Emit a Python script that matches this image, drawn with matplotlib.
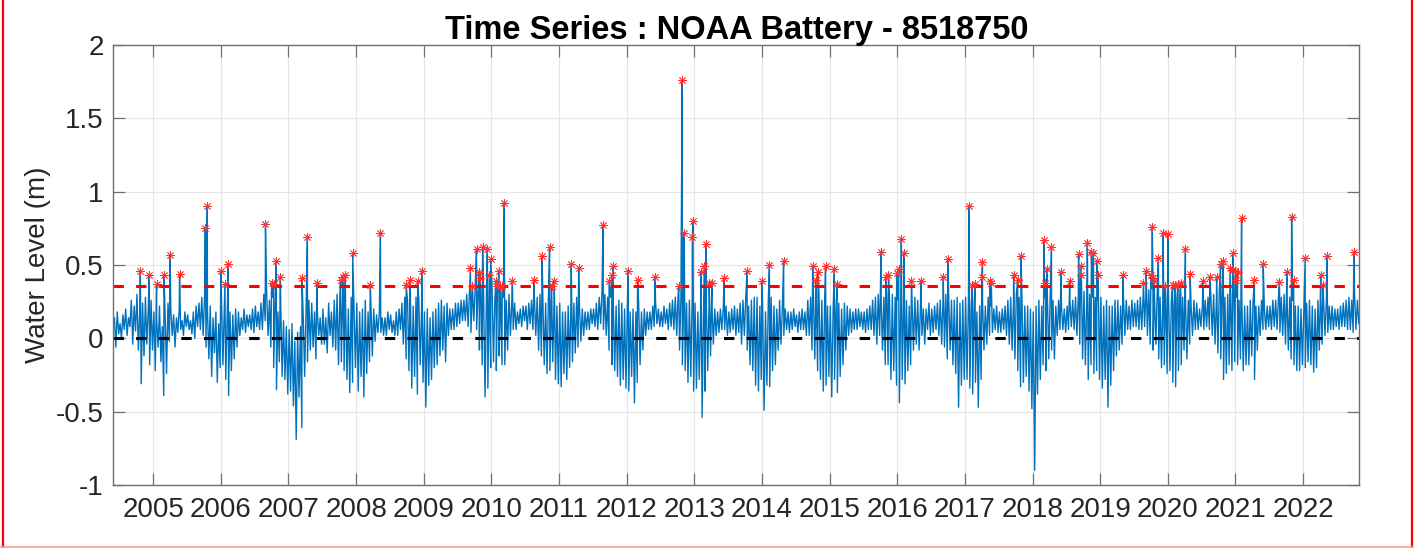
"""plot.py - water level time series with storm peaks (NOAA Battery)"""

import matplotlib
matplotlib.use("Agg")
import matplotlib.pyplot as plt
from matplotlib.lines import Line2D
import numpy as np

plt.rcParams['font.family'] = ['Liberation Sans', 'DejaVu Sans']

# water level, cm, four samples per month (about weekly)
# 2004 starts in June, 2022 stops in October
wl_2004 = [14, -6, 18, 3, 10, 0, 16, 6, 20, 2, 14, 8, 26, -4, 22, 5,
           30, -8, 18, -31, 24, -12, 28, -4, 20, -18, 26, -8]
wl_2005 = [18, -22, 12, -6, 22, -16, 8, -39, 16, -24, 24, -2, 20, 2, 16, -6,
           14, 4, 20, 6, 12, 2, 18, 8, 16, 6, 12, 3, 18, 0, 22, 8,
           24, 6, 28, 2, 30, -6, 20, -14, 22, -26, 14, -10, 18, -30, 10, -20]
wl_2006 = [26, -18, 20, -28, 14, -39, 18, -22, 16, -14, 20, -6, 18, 2, 14, 6,
           20, 4, 16, 8, 16, 6, 20, 4, 22, 8, 18, 6, 24, 6, 30, 12,
           32, 2, 26, -6, 28, -20, 22, -35, 18, -16, 24, -26, 12, -28, 8, -38]
wl_2007 = [6, -36, 10, -46, -2, -69, 4, -40, 8, -61, 14, -26, 20, -16, 26, -8,
           24, -6, 18, -14, 18, 2, 14, -4, 20, -4, 14, -10, 24, 2, 18, -6,
           26, -8, 30, -18, 30, -16, 32, -22, 26, -28, 20, -37, 28, -30, 22, -20]
wl_2008 = [24, -36, 18, -26, 20, -40, 26, -24, 18, -16, 24, -12, 20, -2, 16, 4,
           18, 4, 14, 2, 14, 2, 18, 6, 16, 4, 12, 2, 18, 2, 20, 6,
           24, -4, 28, -14, 26, -22, 30, -34, 22, -26, 28, -38, 26, -18, 22, -30]
wl_2009 = [18, -47, 20, -32, 14, -28, 18, -20, 20, -18, 24, -12, 26, -8, 22, -16,
           24, 2, 20, 6, 20, 6, 24, 8, 24, 10, 26, 12, 26, 12, 30, 8,
           32, 4, 34, 12, 34, 6, 30, -8, 33, -18, 28, -40, 30, -34, 34, -20]
wl_2010 = [34, -16, 28, -22, 32, -12, 30, -18, 28, -18, 26, -8, 30, 2, 26, 6,
           24, 6, 18, 10, 20, 8, 22, 12, 22, 6, 24, 10, 26, 6, 28, 2,
           28, -8, 30, -12, 28, -18, 24, -24, 30, -22, 26, -16, 26, -28, 22, -31]
wl_2011 = [24, -33, 18, -24, 18, -28, 22, -20, 28, -16, 24, -10, 28, -6, 22, -2,
           20, 2, 18, 6, 18, 6, 20, 10, 20, 8, 24, 6, 28, 10, 32, 6,
           30, 2, 28, -8, 28, -18, 24, -22, 22, -26, 26, -32, 24, -28, 20, -34]
wl_2012 = [24, -36, 18, -26, 20, -44, 18, -30, 24, -18, 18, -8, 20, 2, 18, 6,
           18, 6, 22, 8, 24, 10, 20, 8, 18, 8, 22, 10, 20, 6, 24, 8,
           26, 6, 28, 2, 30, -8, 28, -18, 28, -22, 24, -30, 26, -26, 28, -36]
wl_2013 = [24, -34, 18, -28, 20, -54, 16, -36, 24, -22, 26, -12, 22, -4, 20, 2,
           18, 4, 20, 6, 20, 6, 22, 2, 18, 4, 20, 6, 22, 2, 20, 4,
           24, -4, 26, 2, 28, -8, 22, -18, 26, -22, 28, -32, 28, -36, 22, -28]
wl_2014 = [20, -49, 18, -32, 26, -33, 28, -22, 22, -18, 20, -8, 26, -4, 22, 2,
           20, 6, 18, 4, 18, 6, 20, 8, 16, 4, 18, 6, 20, 6, 18, 2,
           26, 2, 28, -8, 30, -14, 28, -22, 28, -28, 26, -36, 28, -32, 22, -26]
wl_2015 = [22, -40, 20, -28, 18, -37, 24, -26, 20, -18, 24, -8, 22, 2, 20, 4,
           18, 6, 20, 6, 20, 8, 18, 6, 18, 4, 20, 6, 22, 6, 26, 2,
           28, -4, 30, 2, 30, -8, 28, -18, 28, -18, 26, -28, 30, -22, 28, -32]
wl_2016 = [26, -44, 28, -28, 22, -31, 26, -22, 22, -18, 26, -8, 28, -4, 26, -8,
           24, 2, 20, -4, 20, 6, 24, 2, 20, 4, 22, 6, 24, 2, 26, -4,
           28, -6, 30, -14, 28, -8, 26, -18, 26, -24, 28, -47, 24, -32, 26, -28]
wl_2017 = [28, -28, 26, -34, 22, -38, 20, -30, 18, -47, 22, -28, 26, -8, 22, -4,
           28, 2, 22, 4, 20, 6, 22, 4, 18, 4, 20, 6, 22, 2, 26, -4,
           28, -8, 26, -14, 30, -22, 28, -33, 26, -30, 22, -26, 22, -36, 20, -48]
wl_2018 = [18, -90, 22, -38, 26, -28, 22, -18, 28, -22, 30, -14, 28, -8, 26, -14,
           22, 2, 26, 6, 22, 6, 20, 4, 22, 6, 26, 8, 26, 6, 28, 2,
           30, -4, 28, -14, 32, -18, 28, -28, 30, -18, 28, -24, 28, -22, 26, -28]
wl_2019 = [28, -34, 22, -28, 26, -47, 22, -32, 22, -22, 26, -12, 26, -8, 22, -4,
           28, 2, 26, 6, 22, 6, 26, 8, 24, 8, 26, 6, 28, 6, 30, 8,
           32, 2, 33, -4, 34, -8, 30, -4, 32, -14, 28, -20, 30, -18, 28, -24]
wl_2020 = [28, -22, 26, -30, 22, -33, 28, -22, 30, -18, 28, -8, 28, -14, 26, -4,
           22, 2, 26, 6, 24, 6, 20, 8, 22, 6, 26, 8, 28, 6, 30, 2,
           30, -4, 28, -10, 32, -14, 28, -28, 28, -24, 30, -18, 30, -22, 28, -16]
wl_2021 = [28, -18, 26, -14, 26, -22, 22, -18, 22, -18, 26, -12, 26, -28, 22, -8,
           22, 2, 26, 6, 20, 6, 22, 8, 22, 6, 26, 8, 26, 6, 28, 4,
           28, 2, 30, -4, 32, -8, 28, -14, 26, -18, 22, -22, 22, -22, 20, -18]
wl_2022 = [20, -20, 24, -16, 26, -18, 22, -23, 20, -20, 26, -8, 28, -4, 26, 2,
           26, 4, 22, 6, 22, 6, 20, 8, 20, 6, 22, 8, 24, 8, 26, 6,
           28, 6, 26, 4, 30, 6, 26, 10]

# peaks above the threshold (red asterisks): decimal year, level in m
peak_year = [2004.81, 2004.94, 2005.05, 2005.16, 2005.25, 2005.39, 2005.77, 2005.80,
             2006.00, 2006.06, 2006.11, 2006.66, 2006.75, 2006.78, 2006.82, 2006.88,
             2007.20, 2007.28, 2007.42, 2007.77, 2007.81, 2007.84, 2007.95, 2008.21,
             2008.36, 2008.74, 2008.80, 2008.91, 2008.97, 2009.69, 2009.72, 2009.78,
             2009.82, 2009.83, 2009.87, 2009.94, 2009.97, 2009.99, 2010.07, 2010.09,
             2010.11, 2010.13, 2010.16, 2010.19, 2010.31, 2010.63, 2010.75, 2010.86,
             2010.89, 2010.93, 2011.18, 2011.29, 2011.65, 2011.74, 2011.78, 2011.80,
             2012.02, 2012.16, 2012.42, 2012.77, 2012.82, 2012.85, 2012.97, 2012.98,
             2013.10, 2013.15, 2013.17, 2013.22, 2013.26, 2013.44, 2013.78, 2014.00,
             2014.11, 2014.32, 2014.75, 2014.80, 2014.83, 2014.94, 2015.07, 2015.11,
             2015.76, 2015.83, 2015.87, 2015.99, 2016.02, 2016.06, 2016.10, 2016.21,
             2016.35, 2016.68, 2016.75, 2017.06, 2017.11, 2017.15, 2017.25, 2017.26,
             2017.37, 2017.39, 2017.72, 2017.78, 2017.83, 2018.17, 2018.19, 2018.21,
             2018.28, 2018.42, 2018.55, 2018.68, 2018.71, 2018.72, 2018.81, 2018.87,
             2018.90, 2018.95, 2018.97, 2019.34, 2019.64, 2019.68, 2019.75, 2019.77,
             2019.78, 2019.80, 2019.86, 2019.93, 2019.96, 2020.00, 2020.07, 2020.11,
             2020.15, 2020.19, 2020.26, 2020.33, 2020.52, 2020.62, 2020.72, 2020.78,
             2020.82, 2020.92, 2020.96, 2020.97, 2021.00, 2021.01, 2021.03, 2021.09,
             2021.28, 2021.41, 2021.65, 2021.76, 2021.83, 2021.86, 2022.03, 2022.26,
             2022.29, 2022.35, 2022.75]
peak_level = [0.46, 0.43, 0.37, 0.43, 0.57, 0.44, 0.75, 0.90,
              0.46, 0.37, 0.51, 0.78, 0.375, 0.37, 0.53, 0.42,
              0.41, 0.69, 0.375, 0.40, 0.42, 0.43, 0.58, 0.365,
              0.72, 0.365, 0.40, 0.39, 0.46, 0.48, 0.36, 0.61,
              0.45, 0.41, 0.625, 0.61, 0.43, 0.54, 0.39, 0.36,
              0.46, 0.36, 0.36, 0.92, 0.39, 0.40, 0.56, 0.62,
              0.36, 0.39, 0.51, 0.48, 0.77, 0.39, 0.43, 0.49,
              0.46, 0.40, 0.42, 0.36, 1.76, 0.72, 0.69, 0.80,
              0.45, 0.49, 0.64, 0.38, 0.38, 0.41, 0.46, 0.39,
              0.50, 0.525, 0.49, 0.40, 0.45, 0.49, 0.47, 0.37,
              0.59, 0.42, 0.43, 0.445, 0.475, 0.675, 0.58, 0.39,
              0.39, 0.42, 0.54, 0.90, 0.365, 0.37, 0.42, 0.52,
              0.39, 0.38, 0.43, 0.40, 0.56, 0.67, 0.38, 0.47,
              0.62, 0.45, 0.39, 0.575, 0.43, 0.49, 0.65, 0.59,
              0.58, 0.53, 0.43, 0.43, 0.38, 0.46, 0.43, 0.76,
              0.41, 0.39, 0.545, 0.72, 0.36, 0.71, 0.365, 0.365,
              0.37, 0.375, 0.61, 0.44, 0.39, 0.415, 0.42, 0.51,
              0.53, 0.48, 0.58, 0.465, 0.46, 0.40, 0.45, 0.82,
              0.40, 0.505, 0.385, 0.455, 0.83, 0.40, 0.55, 0.43,
              0.365, 0.56, 0.59]

threshold = 0.357
years = list(range(2005, 2023))
y_ticks = [-1, -0.5, 0, 0.5, 1, 1.5, 2]
y_tick_labels = ['-1', '-0.5', '0', '0.5', '1', '1.5', '2']

# build the time axis: four samples per month
yearly = {2004: wl_2004, 2005: wl_2005, 2006: wl_2006, 2007: wl_2007, 2008: wl_2008,
          2009: wl_2009, 2010: wl_2010, 2011: wl_2011, 2012: wl_2012, 2013: wl_2013,
          2014: wl_2014, 2015: wl_2015, 2016: wl_2016, 2017: wl_2017, 2018: wl_2018,
          2019: wl_2019, 2020: wl_2020, 2021: wl_2021, 2022: wl_2022}
t, wl = [], []
for yr, vals in yearly.items():
    first_month = 6 if yr == 2004 else 1
    for i, v in enumerate(vals):
        month = first_month + i // 4
        t.append(yr + (month - 1) / 12 + (i % 4 + 0.5) / 48)
        wl.append(v / 100)

# peaks are part of the record
t = np.array(t + peak_year)
wl = np.array(wl + peak_level)
order = np.argsort(t)
t, wl = t[order], wl[order]

fig = plt.figure(figsize=(14.14, 5.48), dpi=100)
ax = fig.add_axes([0.0801, 0.1150, 0.8812, 0.8029])

ax.plot(t, wl, color='#0072BD', lw=1.0)
ax.axhline(threshold, color='r', lw=2.2, ls=(0, (3.4, 4.0)))
ax.axhline(0, color='k', lw=2.2, ls=(0, (3.4, 4.0)))
ax.plot(peak_year, peak_level, ls='none', marker=(8, 2, 0), ms=6,
        mec='#ff3030', mfc='r', mew=0.6)

ax.set_xlim(2004.41, 2022.83)
ax.set_ylim(-1, 2)
ax.set_xticks(years)
ax.set_xticklabels([str(y) for y in years])
ax.set_yticks(y_ticks)
ax.set_yticklabels(y_tick_labels)

ax.grid(True, color='#e6e6e6', lw=0.8)
ax.set_axisbelow(True)
for s in ax.spines.values():
    s.set_color('#707070')
    s.set_linewidth(1.0)
ax.tick_params(direction='in', length=8.6, width=0.9, color='#707070',
               top=True, right=True, labelsize=20, labelcolor='#262626', pad=7)
ax.tick_params(axis='x', pad=9)

ax.set_title('Time Series : NOAA Battery - 8518750', fontsize=23.5,
             fontweight='bold', pad=4)
ax.set_ylabel('Water Level (m)', fontsize=20, labelpad=3, color='#262626')

# red frame around the screenshot
fig.add_artist(Line2D([0.0018, 0.0018], [0, 1], color='red', lw=1.6))
fig.add_artist(Line2D([0.9988, 0.9988], [0, 1], color='red', lw=1.6))
fig.add_artist(Line2D([0, 1], [0.0025, 0.0025], color='#ff9999', lw=1.2))

fig.savefig('out.png', dpi=100)
